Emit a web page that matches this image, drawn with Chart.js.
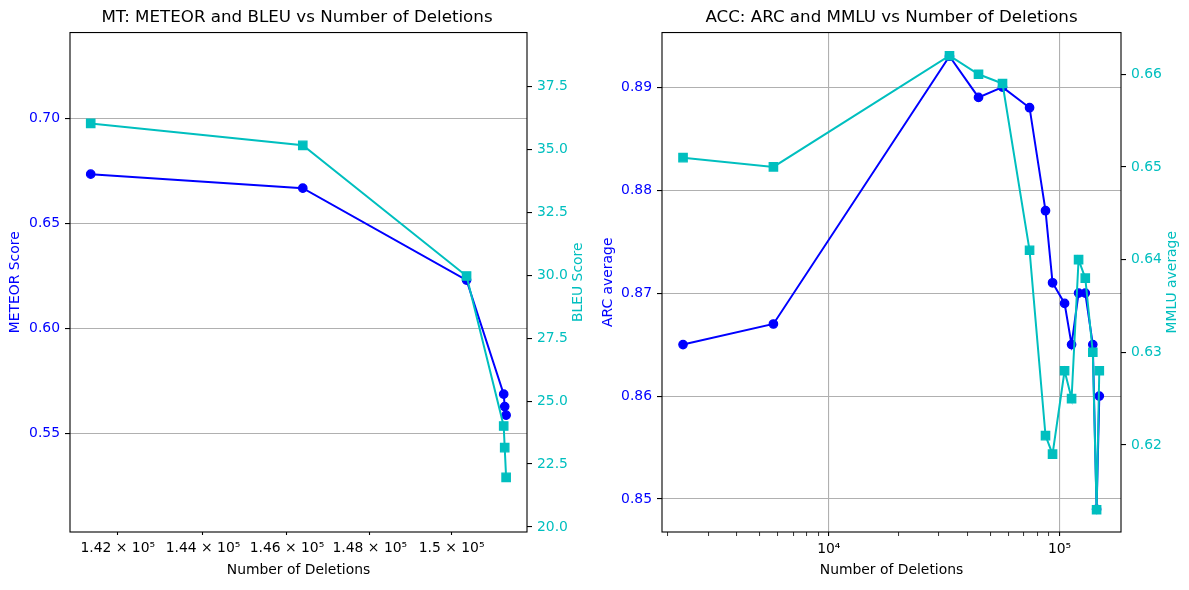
<!DOCTYPE html>
<html>
<head>
<meta charset="utf-8">
<script src="https://cdn.jsdelivr.net/npm/chart.js@4.4.1/dist/chart.umd.min.js"></script>
<style>
  body { margin: 0; background: #fff; }
  canvas { position: absolute; top: 0; }
  #mt { left: 0; }
  #acc { left: 594px; }
</style>
</head>
<body>
<canvas id="mt" width="594" height="590"></canvas>
<canvas id="acc" width="595" height="590"></canvas>
<script>
// MT panel
const mtDeletions = [141370, 146380, 150370, 151290, 151315, 151350];
const mtMeteor = [0.6735, 0.6668, 0.623, 0.5686, 0.5627, 0.5586];
const mtBleu = [36.03, 35.16, 29.97, 24.01, 23.15, 21.97];
const mtXTicks = [142000, 144000, 146000, 148000, 150000];
const meteorTicks = [0.55, 0.60, 0.65, 0.70];
const bleuTicks = [20, 22.5, 25, 27.5, 30, 32.5, 35, 37.5];

// ACC panel
const accDeletions = [2335, 5754, 33340, 44540, 56590, 74130, 86910, 93240, 105130, 112730, 120890, 129260, 139320, 144700, 148660];
const accArc = [0.865, 0.867, 0.893, 0.889, 0.890, 0.888, 0.878, 0.871, 0.869, 0.865, 0.870, 0.870, 0.865, 0.849, 0.860];
const accMmlu = [0.651, 0.650, 0.662, 0.660, 0.659, 0.641, 0.621, 0.619, 0.628, 0.625, 0.640, 0.638, 0.630, 0.613, 0.628];
const accXMajor = [10000, 100000];
const accXMinor = [2000, 3000, 4000, 5000, 6000, 7000, 8000, 9000, 20000, 30000, 40000, 50000, 60000, 70000, 80000, 90000];
const arcTicks = [0.85, 0.86, 0.87, 0.88, 0.89];
const mmluTicks = [0.62, 0.63, 0.64, 0.65, 0.66];

const BLUE = '#0000ff';
const CYAN = '#00bfbf';
const FONT = 'DejaVu Sans';
const tickFont = { family: FONT, size: 13.9 };

const framePlugin = {
  id: 'frame',
  afterDraw(chart) {
    const a = chart.chartArea, c = chart.ctx;
    c.save();
    c.strokeStyle = '#000';
    c.lineWidth = 1.1;
    c.strokeRect(a.left, a.top, a.right - a.left, a.bottom - a.top);
    c.restore();
  }
};

// right-hand axis title, read bottom to top like matplotlib
const rightTitlePlugin = {
  id: 'rightTitle',
  afterDraw(chart, args, opts) {
    const s = chart.scales.y1, a = chart.chartArea, c = chart.ctx;
    c.save();
    c.translate(s.right - opts.offset, (a.top + a.bottom) / 2);
    c.rotate(-Math.PI / 2);
    c.fillStyle = opts.color;
    c.font = '13.9px "' + FONT + '"';
    c.textAlign = 'center';
    c.textBaseline = 'middle';
    c.fillText(opts.text, 0, 0);
    c.restore();
  }
};

function pts(xs, ys) {
  return xs.map((x, i) => ({ x: x, y: ys[i] }));
}

function series(label, xs, ys, color, style, radius, order, axis) {
  return {
    label: label,
    data: pts(xs, ys),
    yAxisID: axis,
    borderColor: color,
    backgroundColor: color,
    borderWidth: 2,
    pointStyle: style,
    pointRadius: radius,
    pointBorderWidth: 1.3,
    pointBackgroundColor: color,
    pointBorderColor: color,
    tension: 0,
    order: order
  };
}

function yAxis(pos, min, max, ticks, fmt, color, title, width, titlePad, grid) {
  return {
    type: 'linear',
    position: pos,
    min: min,
    max: max,
    afterBuildTicks: ax => { ax.ticks = ticks.map(v => ({ value: v })); },
    afterFit: ax => { ax.width = width; },
    border: { display: false },
    grid: {
      drawOnChartArea: grid,
      color: '#b0b0b0',
      lineWidth: 1.1,
      tickColor: '#000',
      tickWidth: 1.1,
      tickLength: 5
    },
    ticks: { color: color, font: tickFont, padding: 5, callback: v => v.toFixed(fmt) },
    title: { display: title !== '', text: title, color: color, font: tickFont, padding: { top: titlePad, bottom: 0 } }
  };
}

function sup(n) {
  const m = { '0': '⁰', '1': '¹', '2': '²', '3': '³', '4': '⁴', '5': '⁵', '6': '⁶', '7': '⁷', '8': '⁸', '9': '⁹' };
  return String(n).split('').map(d => m[d]).join('');
}

function titleOpts(text) {
  return {
    display: true,
    text: text,
    color: '#000',
    font: { family: FONT, size: 16.7, weight: 'normal' },
    padding: { top: 8, bottom: 4.5 }
  };
}

const xTitle = { display: true, text: 'Number of Deletions', color: '#000', font: tickFont, padding: { top: 0, bottom: 11 } };

new Chart(document.getElementById('mt'), {
  type: 'line',
  data: {
    datasets: [
      series('BLEU', mtDeletions, mtBleu, CYAN, 'rect', 5.9, 0, 'y1'),
      series('METEOR', mtDeletions, mtMeteor, BLUE, 'circle', 4.2, 1, 'y')
    ]
  },
  options: {
    responsive: false,
    animation: false,
    devicePixelRatio: 1,
    layout: { padding: 0 },
    scales: {
      x: {
        type: 'logarithmic',
        min: 140890,
        max: 151870,
        afterBuildTicks: ax => { ax.ticks = mtXTicks.map(v => ({ value: v })); },
        afterFit: ax => { ax.height = 58; },
        border: { display: false },
        grid: { drawOnChartArea: false, tickColor: '#000', tickWidth: 1.1, tickLength: 3 },
        ticks: {
          color: '#000', font: tickFont, padding: 5, maxRotation: 0, autoSkip: false,
          callback: v => String(v / 100000) + ' × 10' + sup(5)
        },
        title: xTitle
      },
      y: yAxis('left', 0.5029, 0.741, meteorTicks, 2, BLUE, 'METEOR Score', 70, 6.7, true),
      y1: yAxis('right', 19.8, 39.64, bleuTicks, 1, CYAN, '', 67, 0, false)
    },
    plugins: {
      legend: { display: false },
      tooltip: { enabled: false },
      title: titleOpts('MT: METEOR and BLEU vs Number of Deletions'),
      rightTitle: { text: 'BLEU Score', color: CYAN, offset: 16 }
    }
  },
  plugins: [framePlugin, rightTitlePlugin]
});

const accTicks = accXMajor.concat(accXMinor).sort((a, b) => a - b);

new Chart(document.getElementById('acc'), {
  type: 'line',
  data: {
    datasets: [
      series('MMLU', accDeletions, accMmlu, CYAN, 'rect', 5.9, 0, 'y1'),
      series('ARC', accDeletions, accArc, BLUE, 'circle', 4.2, 1, 'y')
    ]
  },
  options: {
    responsive: false,
    animation: false,
    devicePixelRatio: 1,
    layout: { padding: 0 },
    scales: {
      x: {
        type: 'logarithmic',
        min: 1893,
        max: 184600,
        afterBuildTicks: ax => { ax.ticks = accTicks.map(v => ({ value: v })); },
        afterFit: ax => { ax.height = 58; },
        border: { display: false },
        grid: {
          drawOnChartArea: true,
          color: ctx => (ctx.tick && accXMajor.includes(ctx.tick.value)) ? '#b0b0b0' : 'rgba(0,0,0,0)',
          lineWidth: 1.1,
          tickColor: '#000',
          tickWidth: ctx => (ctx.tick && accXMajor.includes(ctx.tick.value)) ? 1.1 : 0.8,
          tickLength: 4
        },
        ticks: {
          color: '#000', font: tickFont, padding: 5, maxRotation: 0, autoSkip: false,
          callback: v => accXMajor.includes(v) ? '10' + sup(Math.round(Math.log10(v))) : ''
        },
        title: xTitle
      },
      y: yAxis('left', 0.8468, 0.8953, arcTicks, 2, BLUE, 'ARC average', 68, 5.7, true),
      y1: yAxis('right', 0.6106, 0.6645, mmluTicks, 2, CYAN, '', 68, 0, false)
    },
    plugins: {
      legend: { display: false },
      tooltip: { enabled: false },
      title: titleOpts('ACC: ARC and MMLU vs Number of Deletions'),
      rightTitle: { text: 'MMLU average', color: CYAN, offset: 17 }
    }
  },
  plugins: [framePlugin, rightTitlePlugin]
});
</script>
</body>
</html>
